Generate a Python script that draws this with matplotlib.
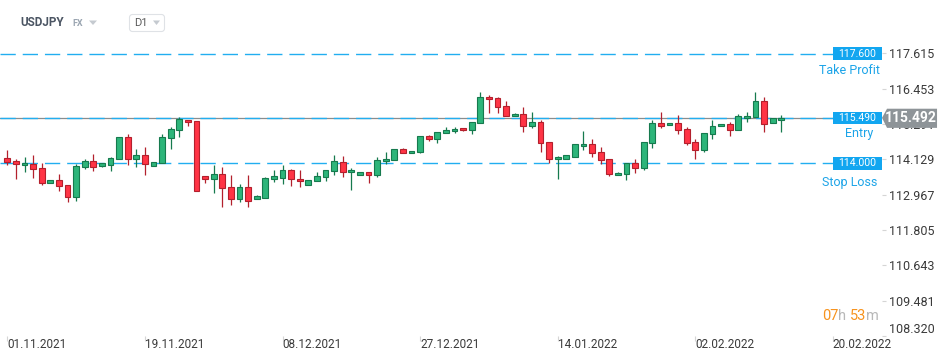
import matplotlib
matplotlib.use('Agg')
import matplotlib.pyplot as plt
import matplotlib.transforms as mtransforms
from matplotlib.patches import Rectangle, Polygon, FancyBboxPatch
import numpy as np

plt.rcParams['font.family'] = ['Roboto', 'DejaVu Sans']

# daily USDJPY candles
opens = [114.161, 114.072, 113.931, 113.974, 113.832, 113.339, 113.437, 113.273, 112.878, 113.865,
         114.062, 113.898, 113.931, 114.128, 114.852, 114.128, 114.260, 113.898, 113.997, 114.819,
         115.082, 115.411, 115.378, 113.569, 113.470, 113.635, 113.207, 112.812, 113.207, 112.812,
         112.865, 113.470, 113.523, 113.766, 113.470, 113.273, 113.404, 113.536, 113.733, 114.029,
         113.701, 113.602, 113.701, 113.602, 114.062, 114.095, 114.457, 114.326, 114.358, 114.885,
         114.786, 114.983, 115.049, 115.148, 115.082, 115.312, 116.168, 116.135, 115.872, 115.543,
         115.608, 115.214, 115.345, 114.687, 114.128, 114.128, 114.194, 114.556, 114.622, 114.358,
         114.128, 113.602, 113.635, 113.997, 113.832, 114.654, 115.312, 115.247, 115.312, 115.115,
         114.687, 114.424, 114.951, 115.214, 115.279, 115.082, 115.477, 115.510, 116.036, 115.312,
         115.411]
highs = [114.434, 114.128, 114.204, 114.270, 113.997, 113.437, 113.645, 113.273, 113.974, 114.128,
         114.302, 114.020, 114.204, 114.852, 114.960, 114.457, 114.523, 114.029, 114.960, 115.181,
         115.510, 115.411, 115.378, 113.569, 113.931, 113.865, 113.612, 113.306, 113.602, 112.954,
         113.530, 113.776, 113.931, 113.809, 113.776, 113.437, 113.701, 113.766, 114.270, 114.237,
         113.832, 113.701, 113.701, 114.194, 114.368, 114.457, 114.500, 114.391, 114.885, 114.918,
         115.016, 115.191, 115.181, 115.148, 115.345, 116.332, 116.233, 116.168, 116.036, 115.641,
         115.839, 115.674, 115.411, 114.687, 114.227, 114.260, 114.622, 115.059, 114.786, 114.523,
         114.128, 113.701, 113.997, 114.128, 114.687, 115.411, 115.674, 115.312, 115.576, 115.181,
         114.786, 114.983, 115.411, 115.279, 115.345, 115.608, 115.674, 116.332, 116.168, 115.477,
         115.576]
lows = [113.951, 113.470, 113.720, 113.523, 113.283, 113.339, 113.095, 112.724, 112.766, 113.819,
        113.753, 113.880, 113.753, 114.128, 113.951, 113.885, 113.602, 113.898, 113.997, 114.477,
        114.852, 115.233, 113.076, 113.339, 113.010, 112.549, 112.615, 112.714, 112.569, 112.812,
        112.865, 113.391, 113.316, 113.260, 113.227, 113.273, 113.404, 113.424, 113.622, 113.556,
        113.128, 113.602, 113.339, 113.556, 113.964, 114.095, 114.326, 114.326, 114.326, 114.720,
        114.674, 114.983, 115.003, 115.049, 114.951, 115.312, 115.641, 115.641, 115.543, 115.543,
        115.036, 115.148, 114.378, 114.016, 113.490, 114.128, 114.194, 114.444, 114.214, 113.964,
        113.589, 113.602, 113.457, 113.687, 113.786, 114.490, 115.148, 115.247, 114.951, 114.589,
        114.148, 114.358, 114.786, 115.214, 114.904, 115.082, 115.345, 115.510, 115.016, 115.312,
        115.016]
closes = [114.029, 113.974, 113.997, 113.799, 113.339, 113.437, 113.240, 112.878, 113.898, 114.062,
          113.865, 113.997, 114.161, 114.852, 114.128, 114.260, 113.974, 114.029, 114.852, 115.115,
          115.444, 115.345, 113.076, 113.470, 113.635, 113.174, 112.812, 113.207, 112.747, 112.911,
          113.503, 113.569, 113.766, 113.470, 113.404, 113.437, 113.569, 113.766, 114.062, 113.701,
          113.766, 113.701, 113.602, 114.095, 114.128, 114.457, 114.326, 114.391, 114.885, 114.786,
          115.016, 115.082, 115.115, 115.082, 115.345, 116.168, 116.102, 115.839, 115.543, 115.608,
          115.214, 115.345, 114.654, 114.148, 114.194, 114.260, 114.622, 114.622, 114.326, 114.095,
          113.635, 113.668, 113.997, 113.832, 114.687, 115.312, 115.214, 115.312, 115.082, 114.654,
          114.424, 114.983, 115.214, 115.279, 115.082, 115.543, 115.543, 116.036, 115.279, 115.477,
          115.492]

date_pos = [0, 16, 32, 48, 64, 80, 96]
date_labels = ['01.11.2021', '19.11.2021', '08.12.2021', '27.12.2021',
               '14.01.2022', '02.02.2022', '20.02.2022']
price_ticks = [108.320, 109.481, 110.643, 111.805, 112.967, 114.129, 115.291, 116.453, 117.615]

levels = [117.600, 115.490, 114.000]
level_names = ['Take Profit', 'Entry', 'Stop Loss']
last_price = 115.492

fig = plt.figure(figsize=(9.5, 3.61), dpi=100)
ax = fig.add_axes([0, 1 - 336 / 361, 882 / 950, 336 / 361])
ax.set_xlim(-0.85, 101.71)
ax.set_ylim(108.316, 119.368)
for s in ax.spines.values():
    s.set_visible(False)

x = np.arange(len(opens))
o = np.array(opens)
c = np.array(closes)
up = c >= o
fill = np.where(up, '#2db57a', '#ff3445')
edge = np.where(up, '#167a4e', '#b3202d')
ax.vlines(x, lows, highs, colors=edge, lw=0.9, zorder=3)
ax.bar(x, np.maximum(np.abs(c - o), 0.03), width=0.68, bottom=np.minimum(o, c),
       color=fill, edgecolor=edge, linewidth=0.8, zorder=4)

# trade levels
ax.axhline(last_price, color='#8c8c8c', lw=0.9, zorder=2)
box_l = (833 - 7.3) / 8.6
for lv in levels:
    ax.plot([-0.85, box_l], [lv, lv], color='#22aef0', lw=1.0, dashes=(11, 5), zorder=2.5)

name_x = [849.5, 859, 849.5]
name_off = [17, 16, 19.5]
for lv, name, nx, off in zip(levels, level_names, name_x, name_off):
    ax.add_patch(Rectangle((box_l, lv - 0.21), 101.71 - box_l, 0.42, facecolor='#12a6f0',
                           edgecolor='none', zorder=5))
    ax.text((box_l + 101.71) / 2, lv, f'{lv:.3f}', color='white', fontsize=7.5,
            ha='center', va='center', zorder=6)
    ax.text((nx - 7.3) / 8.6, lv - off / 30.4, name, color='#1ca4e8', fontsize=9,
            ha='center', va='center', zorder=6)

# axes ticks
ax.yaxis.tick_right()
ax.set_yticks(price_ticks)
ax.set_yticklabels([f'{v:.3f}' for v in price_ticks])
ax.tick_params(axis='y', length=3, color='#d5d5d5', labelsize=9, labelcolor='#3a3a3a', pad=2)
ax.get_yticklabels()[0].set_verticalalignment('bottom')
ax.set_xticks(date_pos)
ax.set_xticklabels(date_labels)
for lbl in ax.get_xticklabels():
    lbl.set_horizontalalignment('left')
ax.tick_params(axis='x', length=3.5, color='#d5d5d5', labelsize=8.5, labelcolor='#3a3a3a', pad=-2)

# current price tag (covers most of the 115.291 tick label, as in the source)
trans = mtransforms.blended_transform_factory(ax.transAxes, ax.transData)
tag = Polygon([(1.0, last_price), (1.0057, last_price + 0.3), (1.0624, last_price + 0.3),
               (1.0624, last_price - 0.33), (1.0057, last_price - 0.33)],
              closed=True, transform=trans, facecolor='#8e9498', edgecolor='none',
              clip_on=False, zorder=10)
ax.add_patch(tag)
ax.text(1.0329, last_price, f'{last_price:.3f}', transform=trans, color='white',
        fontsize=10, fontweight='bold', ha='center', va='center', zorder=11, clip_on=False)

# header and countdown in pixel coordinates
ov = fig.add_axes([0, 0, 1, 1], zorder=10)
ov.set_xlim(0, 950)
ov.set_ylim(361, 0)
ov.axis('off')
ov.patch.set_alpha(0)
ov.text(20, 23, 'USDJPY', fontsize=8.5, fontweight='bold', color='#4b5563', va='center')
ov.text(72, 24, 'FX', fontsize=6.5, fontweight='bold', color='#9aa5b1', va='center')
ov.add_patch(Polygon([(89, 20.5), (97, 20.5), (93, 25)], facecolor='#c5cad0', edgecolor='none'))
ov.add_patch(FancyBboxPatch((129.5, 14.5), 35, 17, boxstyle='round,pad=0,rounding_size=3',
                            facecolor='white', edgecolor='#dfe2e6', lw=0.8))
ov.text(134, 23, 'D1', fontsize=8, color='#5a5a5a', va='center')
ov.add_patch(Polygon([(153, 20.5), (160, 20.5), (156.5, 25)], facecolor='#c5cad0', edgecolor='none'))

t = ov.text(822, 316, '07', fontsize=10.5, color='#f7931e', va='center')
parts = [('h ', '#b8b8b8'), ('53', '#f7931e'), ('m', '#b8b8b8')]
for s, col in parts:
    t = ov.annotate(s, xy=(1, 0), xycoords=t, fontsize=10.5, color=col, va='bottom', ha='left')

fig.savefig('out.png', dpi=100, facecolor='white')
